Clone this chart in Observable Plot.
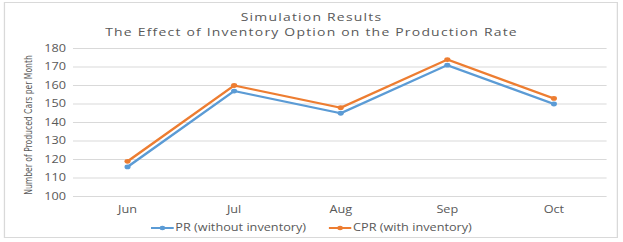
<!DOCTYPE html>
<html>
<head>
<meta charset="utf-8">
<script src="https://cdn.jsdelivr.net/npm/d3@7"></script>
<script src="https://cdn.jsdelivr.net/npm/@observablehq/plot@0.6"></script>
<style>
  html, body { margin: 0; padding: 0; background: #fff; overflow: hidden; }
  /* The reference image is stretched horizontally (~1.27x); reproduce by scaling the whole layout */
  #wrap { position: relative; width: 491px; height: 242px; overflow: hidden; font-family: "Open Sans", sans-serif; color: #595959; transform: scaleX(1.269); transform-origin: 0 0; }
  #frame { position: absolute; left: 3.2px; top: 2px; width: 483.5px; height: 236px; border: 1px solid #d9d9d9; box-sizing: border-box; }
  .title { position: absolute; left: 0; width: 491px; text-align: center; font-size: 11px; line-height: 11px; letter-spacing: 0.95px; color: #595959; white-space: nowrap; }
  #t1 { top: 11px; }
  #t2 { top: 26px; }
  #chart { position: absolute; left: 0; top: 40px; }
  #ylab { position: absolute; left: 22px; top: 125px; transform: translate(-50%, -50%) rotate(-90deg); white-space: nowrap; font-family: "Liberation Sans Narrow", "DejaVu Sans Condensed", sans-serif; font-size: 8.5px; color: #595959; }
  #legend { position: absolute; left: 0; width: 491px; top: 221px; text-align: center; font-size: 10px; line-height: 13px; white-space: nowrap; }
  .item { display: inline-flex; align-items: center; margin: 0 9px; }
  .item svg { margin-right: 1px; }
</style>
</head>
<body>
<div id="wrap">
  <div id="frame"></div>
  <div class="title" id="t1">Simulation Results</div>
  <div class="title" id="t2">The Effect of Inventory Option on the Production Rate</div>
  <div id="chart"></div>
  <div id="ylab">Number of Produced Cars per Month</div>
  <div id="legend"></div>
</div>
<script>
const months = ["Jun", "Jul", "Aug", "Sep", "Oct"];
const prValues = [116, 157, 145, 171, 150];
const cprValues = [119, 160, 148, 174, 153];
const seriesNames = ["PR (without inventory)", "CPR (with inventory)"];
const seriesColors = ["#5B9BD5", "#ED7D31"];
const yTicks = [100, 110, 120, 130, 140, 150, 160, 170, 180];

const data = [];
months.forEach((m, i) => data.push({month: m, value: prValues[i], series: seriesNames[0]}));
months.forEach((m, i) => data.push({month: m, value: cprValues[i], series: seriesNames[1]}));

const plot = Plot.plot({
  width: 491,
  height: 180,
  marginLeft: 57.5,
  marginRight: 13,
  marginTop: 8,
  marginBottom: 24,
  style: {fontFamily: "'Open Sans', sans-serif", fontSize: "10px", color: "#595959", background: "transparent"},
  x: {type: "point", domain: months, padding: 0.5, label: null, tickSize: 0, tickPadding: 9},
  y: {domain: [100, 180], ticks: yTicks, label: null, tickSize: 0, tickPadding: 6},
  color: {domain: seriesNames, range: seriesColors},
  marks: [
    Plot.ruleY(yTicks, {stroke: "#d9d9d9", strokeWidth: 1}),
    Plot.line(data, {x: "month", y: "value", z: "series", stroke: "series", strokeWidth: 2.2}),
    Plot.dot(data, {x: "month", y: "value", fill: "series", r: 2.4})
  ]
});
document.getElementById("chart").appendChild(plot);

const legend = document.getElementById("legend");
seriesNames.forEach((name, i) => {
  const span = document.createElement("span");
  span.className = "item";
  span.innerHTML = `<svg width="18" height="8"><line x1="0" y1="4" x2="18" y2="4" stroke="${seriesColors[i]}" stroke-width="2"/><circle cx="9" cy="4" r="2.2" fill="${seriesColors[i]}"/></svg>${name}`;
  legend.appendChild(span);
});
</script>
</body>
</html>
